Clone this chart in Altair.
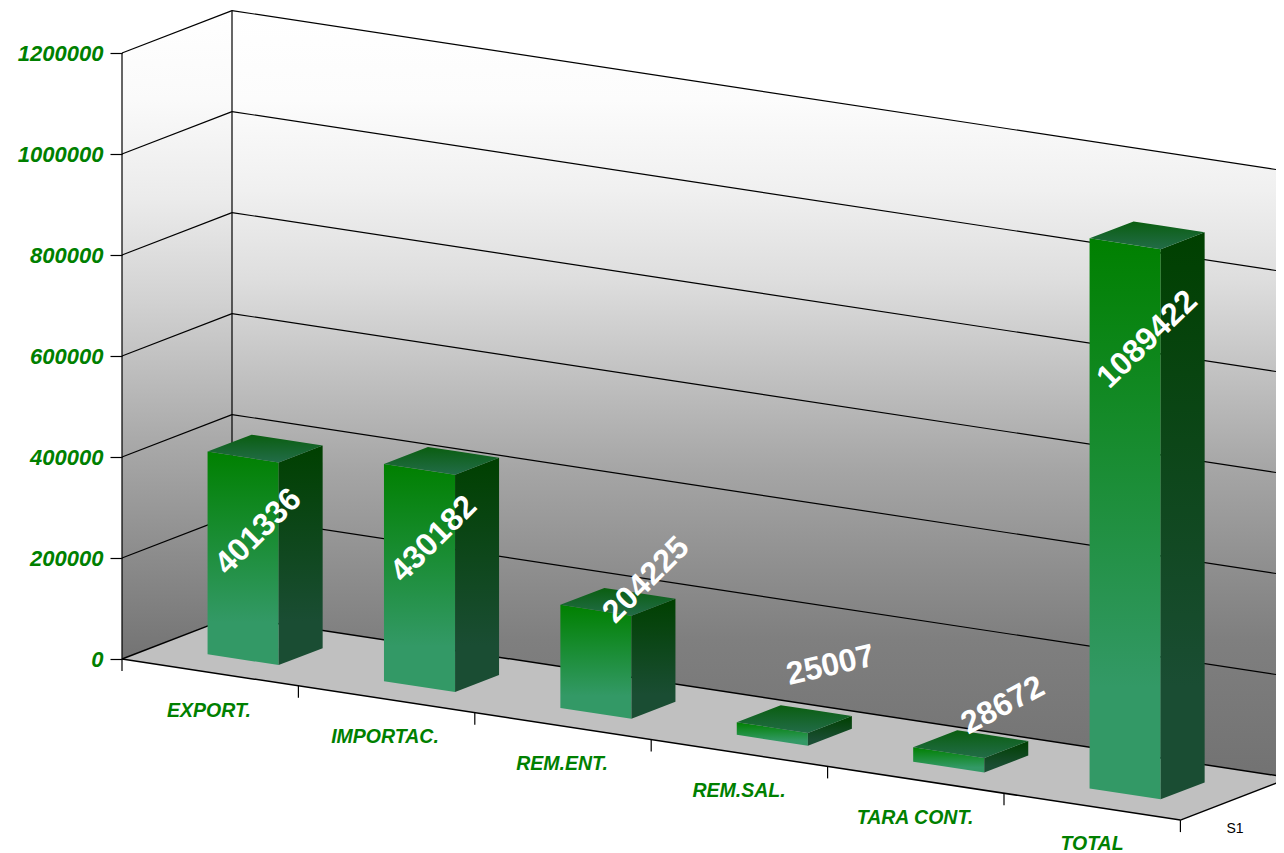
import altair as alt
import pandas as pd

# ---------- chart values ----------
categories = ["EXPORT.", "IMPORTAC.", "REM.ENT.", "REM.SAL.", "TARA CONT.", "TOTAL"]
values = [401336, 430182, 204225, 25007, 28672, 1089422]
y_ticks = [0, 200000, 400000, 600000, 800000, 1000000, 1200000]
series_name = "S1"

# ---------- layout of the oblique projection (reference pixels) ----------
PAGE = 8
W, H = 1268, 845
ORIGIN_X, ORIGIN_Y = 122.0, 659.0
STEP_X, STEP_Y = 176.4, 26.85      # one category along the front edge
DEPTH_X, DEPTH_Y = 110.0, -42.4    # the whole depth of the box
PX_PER_UNIT = 606.0 / 1200000.0
BAR_U0, BAR_DU = 0.298, 0.403
BAR_Z0, BAR_DZ = 0.30, 0.40

label_angles = [315, 315, 315, 347, 332, 316]
label_dx = [-7, -8, 28, 36, 32, 0]
label_dy = [83, 78, -22, -54, -39, 104]
cat_label_px = [(209, 711), (385, 737), (562, 764), (739, 791), (915, 818), (1092, 844)]


def px_to_u(px):
    return (px - ORIGIN_X) / STEP_X


def py_to_v(py):
    return (ORIGIN_Y - py) / PX_PER_UNIT


def project(u, v, z):
    """category position, value, depth -> plane coordinates on the two linear scales"""
    px = ORIGIN_X + u * STEP_X + z * DEPTH_X
    py = ORIGIN_Y + u * STEP_Y + z * DEPTH_Y - v * PX_PER_UNIT
    return px_to_u(px), py_to_v(py)


x_scale = alt.Scale(domain=[px_to_u(PAGE), px_to_u(PAGE + W)], range=[0, W], nice=False, zero=False)
y_scale = alt.Scale(domain=[py_to_v(PAGE + H), py_to_v(PAGE)], range=[H, 0], nice=False, zero=False)

# the real value axis, moved onto the front-left edge of the box; shared by all layers
y_axis = alt.Axis(
    values=y_ticks, format="d", title=None, grid=False, domain=False,
    offset=-(ORIGIN_X - PAGE), orient="left", zindex=1,
    tickSize=12, tickColor="black", tickWidth=1.2,
    labelFont="Liberation Sans", labelFontSize=22, labelFontWeight="bold", labelFontStyle="italic",
    labelColor="#008000", labelPadding=7, labelOverlap=False, labelBound=False, labelFlush=False,
)


def X(field="x"):
    return alt.X(f"{field}:Q", scale=x_scale, axis=None)


def Y(field="y"):
    return alt.Y(f"{field}:Q", scale=y_scale, axis=y_axis)


def polygon_rows(corners, key):
    """Rows of an area mark for a convex polygon: upper and lower outline at every corner x."""
    n = len(corners)
    xs = sorted(set(round(c[0], 6) for c in corners))
    rows = []
    for x in xs:
        hits = []
        for i in range(n):
            a, b = corners[i], corners[(i + 1) % n]
            lo, hi = min(a[0], b[0]), max(a[0], b[0])
            if lo - 1e-6 <= x <= hi + 1e-6:
                if abs(a[0] - b[0]) < 1e-9:
                    hits += [a[1], b[1]]
                else:
                    t = (x - a[0]) / (b[0] - a[0])
                    hits.append(a[1] + t * (b[1] - a[1]))
        rows.append({"x": x, "y": max(hits), "y2": min(hits), "key": key})
    return rows


def area_layer(rows, fill, clip=True):
    return alt.Chart(pd.DataFrame(rows)).mark_area(color=fill, clip=clip, interpolate="linear").encode(
        x=X(), y=Y(), y2="y2:Q", detail="key:N",
    )


def gradient(*stops):
    return alt.Gradient(
        gradient="linear", x1=0, y1=0, x2=0, y2=1,
        stops=[alt.GradientStop(color=c, offset=o) for o, c in stops],
    )


def rule_layer(segments, width):
    rows = []
    for (a, b) in segments:
        x, y = project(*a)
        x2, y2 = project(*b)
        rows.append({"x": x, "y": y, "x2": x2, "y2": y2})
    return alt.Chart(pd.DataFrame(rows)).mark_rule(color="black", strokeWidth=width, clip=True).encode(
        x=X(), y=Y(), x2="x2:Q", y2="y2:Q",
    )


n = len(categories)
top_v = y_ticks[-1]

# walls and floor
back_wall = [project(0, 0, 1), project(0, top_v, 1), project(n, top_v, 1), project(n, 0, 1)]
left_wall = [project(0, 0, 0), project(0, top_v, 0), project(0, top_v, 1), project(0, 0, 1)]
floor = [project(0, 0, 0), project(0, 0, 1), project(n, 0, 1), project(n, 0, 0)]

wall_fill = gradient(
    (0, "#ffffff"), (0.116, "#fcfcfc"), (0.234, "#f0f0f0"), (0.35, "#dedede"), (0.48, "#c0c0c0"),
    (0.6, "#a5a5a5"), (0.73, "#8e8e8e"), (0.82, "#7f7f7f"), (1, "#727272"),
)
left_fill = gradient(
    (0, "#ffffff"), (0.137, "#fafafa"), (0.29, "#ebebeb"), (0.446, "#d2d2d2"),
    (0.66, "#aaaaaa"), (0.84, "#8c8c8c"), (1, "#737373"),
)
wall_layer = area_layer(polygon_rows(back_wall, "back"), wall_fill)
left_layer = area_layer(polygon_rows(left_wall, "left"), left_fill)
floor_layer = area_layer(polygon_rows(floor, "floor"), "#c0c0c0")

# grid and box edges
thin = []
for t in y_ticks[1:]:
    thin.append(((0, t, 0), (0, t, 1)))
    thin.append(((0, t, 1), (n, t, 1)))
thin.append(((0, 0, 0), (0, top_v, 0)))
thin.append(((0, 0, 1), (0, top_v, 1)))
grid_layer = rule_layer(thin, 1.2)
edges_layer = rule_layer(
    [((0, 0, 0), (0, 0, 1)), ((0, 0, 1), (n, 0, 1)), ((0, 0, 0), (n, 0, 0)), ((n, 0, 0), (n, 0, 1))], 1.5
)

# tick marks below the front edge (12 px long)
tick_rows = []
for i in range(n + 1):
    x, y = project(i, 0, 0)
    tick_rows.append({"x": x, "y": y, "y2": y - 12 / PX_PER_UNIT})
ticks_layer = alt.Chart(pd.DataFrame(tick_rows)).mark_rule(color="black", strokeWidth=1.2).encode(
    x=X(), y=Y(), y2="y2:Q",
)

# bars
front_rows, side_rows, top_rows = [], [], []
for i, v in enumerate(values):
    u0, u1 = i + BAR_U0, i + BAR_U0 + BAR_DU
    z0, z1 = BAR_Z0, BAR_Z0 + BAR_DZ
    front_rows += polygon_rows([project(u0, 0, z0), project(u0, v, z0), project(u1, v, z0), project(u1, 0, z0)], f"b{i}")
    side_rows += polygon_rows([project(u1, 0, z0), project(u1, v, z0), project(u1, v, z1), project(u1, 0, z1)], f"b{i}")
    top_rows += polygon_rows([project(u0, v, z0), project(u0, v, z1), project(u1, v, z1), project(u1, v, z0)], f"b{i}")

front_layer = area_layer(front_rows, gradient((0, "#008000"), (0.8, "#339966"), (1, "#339966")), clip=False)
side_layer = area_layer(side_rows, gradient((0, "#004000"), (0.8, "#1a4d33"), (1, "#1a4d33")), clip=False)
top_layer = area_layer(top_rows, gradient((0, "#0a5e10"), (1, "#226c48")), clip=False)

# value labels
label_rows = []
for i, v in enumerate(values):
    x, y = project(i + 0.5, v, 0.5)
    label_rows.append({
        "x": x + label_dx[i] / STEP_X,
        "y": y - label_dy[i] / PX_PER_UNIT,
        "text": str(v),
        "angle": label_angles[i],
    })
value_labels = alt.Chart(pd.DataFrame(label_rows)).mark_text(
    font="Liberation Sans", fontWeight="bold", fontSize=32, color="white", align="center", baseline="middle"
).encode(
    x=X(), y=Y(), text="text:N", angle=alt.Angle("angle:Q", scale=None),
)

# category labels
cat_rows = [{"x": px_to_u(p[0]), "y": py_to_v(p[1]), "text": c} for c, p in zip(categories, cat_label_px)]
cat_labels = alt.Chart(pd.DataFrame(cat_rows)).mark_text(
    font="Liberation Sans", fontWeight="bold", fontStyle="italic", fontSize=19.5, color="#008000",
    align="center", baseline="middle",
).encode(x=X(), y=Y(), text="text:N")

# series label
series_df = pd.DataFrame([{"x": px_to_u(1235), "y": py_to_v(829), "text": series_name}])
series_label = alt.Chart(series_df).mark_text(
    font="Liberation Sans", fontSize=14, color="black", align="center", baseline="middle"
).encode(x=X(), y=Y(), text="text:N")

chart = alt.layer(
    wall_layer, left_layer, floor_layer, grid_layer, edges_layer, ticks_layer,
    front_layer, side_layer, top_layer, value_labels, cat_labels, series_label,
).properties(
    width=W, height=H, padding=0, background="white",
    autosize=alt.AutoSizeParams(type="none"),
).configure_view(stroke=None)

chart.save("out.html", embed_options={"renderer": "svg", "actions": False})
